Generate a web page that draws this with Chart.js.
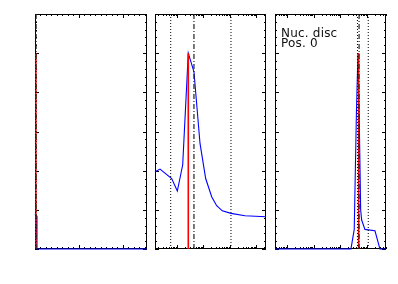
<!DOCTYPE html>
<html><head><meta charset="utf-8">
<script src="https://cdn.jsdelivr.net/npm/chart.js@4/dist/chart.umd.min.js"></script>
<style>
html,body{margin:0;padding:0;background:#fff;}
.wrap{position:absolute;}
#label{position:absolute;left:281px;top:28px;font:12px "DejaVu Sans",sans-serif;line-height:10px;color:#111;white-space:pre;letter-spacing:0.2px;}
</style></head>
<body>
<div class="wrap" id="w1"><canvas id="c1"></canvas></div>
<div class="wrap" id="w2"><canvas id="c2"></canvas></div>
<div class="wrap" id="w3"><canvas id="c3"></canvas></div>
<div id="label">Nuc. disc
Pos. 0</div>
<script>
// ---------- data ----------
// Panel 1 (linear x)
const p1BlueX = [0, 0.03, 0.045, 2.55];
const p1BlueY = [0.18, 0.17, 0, 0];
const p1RedX = 0.02;
const p1DottedX = [0.01];
const p1DashDotX = [0.025];
// Panel 2 (log x)
const p2BlueX = [0.148, 0.229, 0.63, 1.03, 1.64, 2.67, 4.37, 7.4, 12.1, 20.4, 31.5, 51.4, 109, 369, 2290];
const p2BlueY = [0.394, 0.408, 0.36, 0.296, 0.429, 1.0, 0.905, 0.539, 0.36, 0.267, 0.221, 0.195, 0.182, 0.17, 0.165];
const p2RedX = 2.67;
const p2DottedX = [0.58, 109];
const p2DashDotX = [4.37];
// Panel 3 (log x)
const p3BlueX = [0.355, 249, 331, 400, 457, 519, 575, 628, 833, 1980, 2410, 3030, 5130];
const p3BlueY = [0, 0, 0.1, 0.7, 1.0, 0.6, 0.2, 0.148, 0.1, 0.093, 0.05, 0, 0];
const p3RedX = 484;
const p3DottedX = [437, 1110];
const p3DashDotX = [502];
const peakY = 1.0;
// axes
const yRange = [0, 1.2];
const yMajorTicks = [0, 0.2, 0.4, 0.6, 0.8, 1.0, 1.2];
const yMinorStep = 0.04;
const p1XRange = [0, 2.55];
const p1XMajorTicks = [0, 1, 2];
const p1XMinorStep = 0.125;
const p2XRange = [0.148, 2290];
const p3XRange = [0.355, 5130];
const logDecades = [0.01, 0.1, 1, 10, 100, 1000, 10000];

// ---------- layout ----------
const TOP = 14, BOTTOM = 249, PAD = 4;
const panels = [
  {id:'1', left:35, right:147},
  {id:'2', left:155, right:266},
  {id:'3', left:275, right:386}
];

function seq(a, b, step){ const r=[]; for(let v=a; v<=b+1e-9; v+=step) r.push(+v.toFixed(6)); return r; }
const yMinorTicks = seq(yRange[0], yRange[1], yMinorStep);
function logMinor(){ const r=[]; logDecades.forEach(d=>{ for(let k=2;k<=9;k++) r.push(d*k); }); return r; }

const frameTicks = {
  id:'frameTicks',
  beforeDatasetsDraw(chart, args, o){
    const {ctx, chartArea:a, scales:{x, y}} = chart;
    ctx.save();
    ctx.strokeStyle = '#000'; ctx.lineWidth = 1;
    ctx.beginPath();
    const xt = (vals, len) => vals.forEach(v=>{
      if (v < x.min || v > x.max) return;
      const px = Math.round(x.getPixelForValue(v)) + 0.5;
      ctx.moveTo(px, a.bottom); ctx.lineTo(px, a.bottom - len);
      ctx.moveTo(px, a.top); ctx.lineTo(px, a.top + len);
    });
    const yt = (vals, len) => vals.forEach(v=>{
      if (v < y.min || v > y.max) return;
      const py = Math.round(y.getPixelForValue(v)) + 0.5;
      ctx.moveTo(a.left, py); ctx.lineTo(a.left + len, py);
      ctx.moveTo(a.right, py); ctx.lineTo(a.right - len, py);
    });
    xt(o.xMinor, 2); xt(o.xMajor, 4);
    yt(yMinorTicks, 2); yt(yMajorTicks, 4);
    ctx.stroke();
    ctx.strokeRect(Math.round(a.left)+0.5, Math.round(a.top)+0.5, Math.round(a.right-a.left)-1, Math.round(a.bottom-a.top)-1);
    ctx.restore();
  }
};

function vLines(xs, top, style){
  return xs.map(v => Object.assign({data:[{x:v,y:0},{x:v,y:top}]}, style));
}

function makeChart(p, cfg){
  const w = document.getElementById('w'+p.id);
  const W = p.right - p.left + 2*PAD, H = BOTTOM - TOP + 2*PAD;
  w.style.left = (p.left - PAD) + 'px'; w.style.top = (TOP - PAD) + 'px';
  w.style.width = W + 'px'; w.style.height = H + 'px';
  const c = document.getElementById('c'+p.id);
  c.width = W; c.height = H; c.style.width = W+'px'; c.style.height = H+'px';
  const dotted = {borderColor:'#000', borderWidth:1, borderDash:[1,2]};
  const dashdot = {borderColor:'#222', borderWidth:1.2, borderDash:[5,2,1,2]};
  const red = {borderColor:'#ff0000', borderWidth:1.6};
  const blue = {borderColor:'#0000ff', borderWidth:1.1, clip:2};
  const datasets = [].concat(
    vLines(cfg.dashdot, yRange[1], dashdot),
    vLines(cfg.dotted, yRange[1], dotted),
    vLines([cfg.red], peakY, red),
    [Object.assign({data: cfg.bx.map((v,i)=>({x:v, y:cfg.by[i]}))}, blue)]
  );
  new Chart(c, {
    type:'line',
    data:{datasets},
    options:{
      responsive:false, animation:false, devicePixelRatio:1,
      layout:{padding:PAD},
      parsing:false,
      elements:{point:{radius:0}, line:{tension:0, fill:false}},
      plugins:{legend:{display:false}, tooltip:{enabled:false}, frameTicks:{xMajor:cfg.xMajor, xMinor:cfg.xMinor}},
      scales:{
        x:{type:cfg.xType, min:cfg.xr[0], max:cfg.xr[1], display:false},
        y:{type:'linear', min:yRange[0], max:yRange[1], display:false}
      }
    },
    plugins:[frameTicks]
  });
}

makeChart(panels[0], {xType:'linear', xr:p1XRange, bx:p1BlueX, by:p1BlueY, red:p1RedX, dotted:p1DottedX, dashdot:p1DashDotX,
  xMajor:p1XMajorTicks, xMinor:seq(p1XRange[0], p1XRange[1], p1XMinorStep)});
makeChart(panels[1], {xType:'logarithmic', xr:p2XRange, bx:p2BlueX, by:p2BlueY, red:p2RedX, dotted:p2DottedX, dashdot:p2DashDotX,
  xMajor:logDecades, xMinor:logMinor()});
makeChart(panels[2], {xType:'logarithmic', xr:p3XRange, bx:p3BlueX, by:p3BlueY, red:p3RedX, dotted:p3DottedX, dashdot:p3DashDotX,
  xMajor:logDecades, xMinor:logMinor()});
</script>
</body></html>
